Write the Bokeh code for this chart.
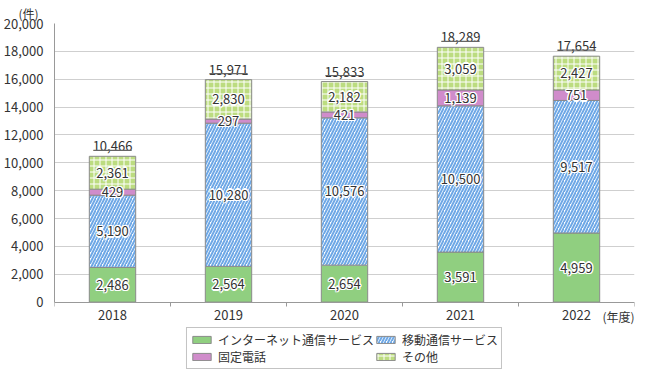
import numpy as np
from bokeh.plotting import figure
from bokeh.models import (ColumnDataSource, FixedTicker, NumeralTickFormatter, Range1d,
                          Legend, LegendItem, Title, Label)
from bokeh.core.properties import value
from bokeh.embed import file_html
from bokeh.resources import INLINE

years = ["2018", "2019", "2020", "2021", "2022"]
internet = [2486, 2564, 2654, 3591, 4959]
mobile = [5190, 10280, 10576, 10500, 9517]
fixed = [429, 297, 421, 1139, 751]
other = [2361, 2830, 2182, 3059, 2427]
series_names = ["インターネット通信サービス", "移動通信サービス", "固定電話", "その他"]
y_ticks = list(range(0, 20001, 2000))

FONT = "Noto Sans CJK JP"
TXT = "#333333"

x = np.arange(len(years), dtype=float)
stack = np.array([internet, mobile, fixed, other], dtype=float)
tops = np.cumsum(stack, axis=0)
bottoms = tops - stack
totals = tops[-1]

# layout: about 277 px for 0..20000 and 68 px of room below the axis for labels/legend
PX_PER_UNIT = 277 / 20000
BELOW_PX = 68
y_lo = -BELOW_PX / PX_PER_UNIT

p = figure(width=645, height=370, output_backend="svg", toolbar_location=None,
           x_range=Range1d(-0.5, len(years) - 0.5), y_range=Range1d(y_lo, 20000),
           min_border_left=38, min_border_right=11, min_border_top=18, min_border_bottom=0)
p.outline_line_color = None
p.background_fill_color = "white"
p.xgrid.grid_line_color = None
p.ygrid.grid_line_color = "#cfcfcf"
p.ygrid.ticker = FixedTicker(ticks=y_ticks)

styles = [
    dict(fill_color="#90cf80", hatch_pattern=None),
    dict(fill_color="white", hatch_pattern="/", hatch_color="#6ea8e6", hatch_scale=6, hatch_weight=2),
    dict(fill_color="#d08ccb", hatch_pattern=None),
    dict(fill_color="#bcdc80", hatch_pattern="+", hatch_color="white", hatch_scale=6, hatch_weight=1),
]

renderers = []
for i, name in enumerate(series_names):
    src = ColumnDataSource(dict(x=x, bottom=bottoms[i], top=tops[i]))
    st = dict(styles[i])
    hp = st.pop("hatch_pattern")
    kw = dict(x="x", bottom="bottom", top="top", width=0.4, source=src,
              line_color="#8a8a8a", line_width=1, **st)
    if hp:
        kw["hatch_pattern"] = hp
    r = p.vbar(**kw)
    renderers.append(r)

# segment labels (with a white halo)
lab_x, lab_y, lab_t = [], [], []
for i in range(len(series_names)):
    for j in range(len(years)):
        lab_x.append(x[j])
        lab_y.append((bottoms[i][j] + tops[i][j]) / 2)
        lab_t.append(f"{int(stack[i][j]):,}")
lsrc = ColumnDataSource(dict(x=lab_x, y=lab_y, t=lab_t))
for dx, dy in [(-1, -1), (-1, 1), (1, -1), (1, 1), (0, -1.3), (0, 1.3), (-1.3, 0), (1.3, 0)]:
    p.text(x="x", y="y", text="t", source=lsrc, text_align="center", text_baseline="middle",
           text_font=value(FONT), text_font_size="13px", text_color="white",
           x_offset=dx, y_offset=dy)
p.text(x="x", y="y", text="t", source=lsrc, text_align="center", text_baseline="middle",
       text_font=value(FONT), text_font_size="13px", text_color=TXT)

# totals with underline
tsrc = ColumnDataSource(dict(x=x, y=totals + 6 / PX_PER_UNIT, t=[f"{int(v):,}" for v in totals],
                             x0=x - 0.165, x1=x + 0.165))
p.text(x="x", y="y", text="t", source=tsrc, text_align="center", text_baseline="bottom",
       text_font=value(FONT), text_font_size="13px", text_color=TXT, y_offset=1)
p.segment(x0="x0", y0="y", x1="x1", y1="y", source=tsrc, line_color="#666666", line_width=1.2)

# axes
ya = p.yaxis[0]
ya.ticker = FixedTicker(ticks=y_ticks)
ya.bounds = (0, 20000)
ya.formatter = NumeralTickFormatter(format="0,0")
ya.axis_line_color = "#999999"
ya.major_tick_line_color = None
ya.minor_tick_line_color = None
ya.major_label_text_font = FONT
ya.major_label_text_font_size = "13px"
ya.major_label_text_color = TXT
ya.major_label_standoff = 5

boundaries = list(np.arange(-0.5, len(years), 1.0))
xa = p.xaxis[0]
xa.fixed_location = 0
xa.ticker = FixedTicker(ticks=list(x), minor_ticks=boundaries)
xa.major_label_overrides = {float(v): s for v, s in zip(x, years)}
xa.axis_line_color = "#999999"
xa.major_tick_line_color = None
xa.minor_tick_line_color = "#999999"
xa.minor_tick_out = 4
xa.minor_tick_in = 0
xa.major_label_text_font = FONT
xa.major_label_text_font_size = "13px"
xa.major_label_text_color = TXT
xa.major_label_standoff = 2

p.add_layout(Label(x=len(years) - 0.5, y=-14 / PX_PER_UNIT, text="(年度)",
                   text_align="right", text_baseline="middle", text_font=FONT,
                   text_font_size="12px", text_color=TXT))

unit_title = Title(text="(件)", align="left", offset=-36, standoff=4, text_font=FONT,
                   text_font_size="12px", text_font_style="normal", text_color=TXT)
p.add_layout(unit_title, "above")

legend = Legend(items=[LegendItem(label=series_names[k], renderers=[renderers[k]]) for k in [0, 2, 1, 3]],
                location="bottom", ncols=2, orientation="vertical",
                border_line_color="#888888", border_line_width=1,
                label_text_font=FONT, label_text_font_size="12px", label_text_color=TXT,
                glyph_width=23, glyph_height=9, label_standoff=5, spacing=0,
                padding=3, margin=1, label_height=13, background_fill_alpha=1)
p.add_layout(legend, "center")

open("out.html", "w").write(file_html(p, INLINE))
